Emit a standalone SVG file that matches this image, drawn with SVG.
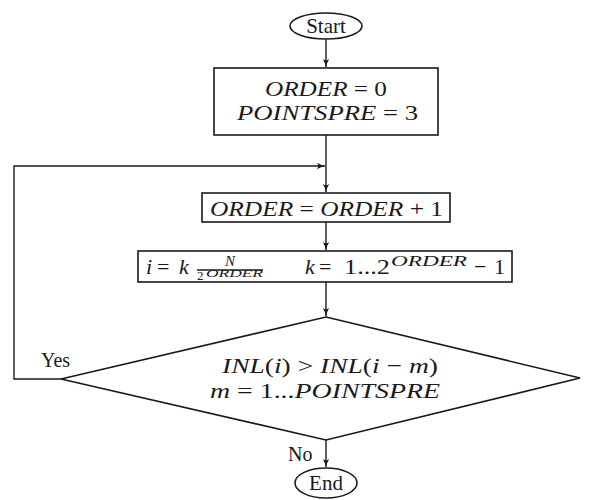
<svg xmlns="http://www.w3.org/2000/svg" width="600" height="500" viewBox="0 0 600 500">
<defs>
<style>
.shape{fill:#fff;stroke:#1a1a1a;stroke-width:1.6}
.line{fill:none;stroke:#1a1a1a;stroke-width:1.4}
text{font-family:"Liberation Serif","Times New Roman",serif;fill:#1a1a1a}
.m{font-size:21px;text-anchor:middle}
.r{font-size:22px}
.i{font-style:italic;font-family:"Liberation Serif","Times New Roman",serif}
.lbl{font-size:20px}
</style>
<marker id="ah" viewBox="0 0 10 10" refX="10" refY="5" markerWidth="8" markerHeight="8" markerUnits="userSpaceOnUse" orient="auto">
<path d="M0,1 Q5,4 10,5 Q5,6 0,9 Q3,5 0,1 Z" fill="#1a1a1a"/>
</marker>
</defs>
<rect width="600" height="500" fill="#fff"/>
<g id="connectors">
<line class="line" x1="326" y1="39" x2="326" y2="67" marker-end="url(#ah)"/>
<line class="line" x1="326" y1="135" x2="326" y2="192" marker-end="url(#ah)"/>
<polyline class="line" points="61,379 14,379 14,166 325,166" marker-end="url(#ah)"/>
<line class="line" x1="326" y1="222" x2="326" y2="250" marker-end="url(#ah)"/>
<line class="line" x1="326" y1="282" x2="326" y2="316" marker-end="url(#ah)"/>
<line class="line" x1="326" y1="440" x2="326" y2="467" marker-end="url(#ah)"/>
<text class="lbl" x="41" y="367">Yes</text>
<text class="lbl" x="288" y="461">No</text>
</g>
<g id="start">
<ellipse class="shape" cx="326" cy="26" rx="36" ry="13"/>
<text x="326" y="33" class="m">Start</text>
</g>
<g id="init">
<rect class="shape" x="214" y="68" width="224" height="67"/>
<text x="265" y="96" class="r" textLength="122" lengthAdjust="spacingAndGlyphs"><tspan class="i">ORDER</tspan> = 0</text>
<text x="237" y="120" class="r" textLength="181" lengthAdjust="spacingAndGlyphs"><tspan class="i">POINTSPRE</tspan> = 3</text>
</g>
<g id="increment">
<rect class="shape" x="202" y="193" width="248" height="29"/>
<text x="210" y="216" class="r" textLength="233" lengthAdjust="spacingAndGlyphs"><tspan class="i">ORDER</tspan> = <tspan class="i">ORDER</tspan> + 1</text>
</g>
<g id="compute">
<rect class="shape" x="138" y="251" width="374" height="31"/>
<text x="146" y="274" class="r i">i</text>
<text x="157" y="274" class="r">=</text>
<text x="179" y="274" class="r i">k</text>
<text x="230" y="266" style="font-size:15px;text-anchor:middle" class="i">N</text>
<line x1="197" y1="270" x2="263" y2="270" stroke="#1a1a1a" stroke-width="1.3"/>
<text x="197" y="280" style="font-size:13px">2</text>
<text x="206" y="277" style="font-size:10px" class="i" textLength="57" lengthAdjust="spacingAndGlyphs">ORDER</text>
<text x="305" y="274" class="r i">k</text>
<text x="319" y="274" class="r">=</text>
<text x="344" y="274" class="r" textLength="46" lengthAdjust="spacingAndGlyphs">1...2</text>
<text x="391" y="266" style="font-size:14px" class="i" textLength="76" lengthAdjust="spacingAndGlyphs">ORDER</text>
<text x="474" y="274" class="r">−</text>
<text x="494" y="274" class="r">1</text>
</g>
<g id="decision">
<polygon class="shape" points="326,317 580,378 326,440 61,379"/>
<text x="222" y="373" class="r" textLength="216" lengthAdjust="spacingAndGlyphs"><tspan class="i">INL</tspan>(<tspan class="i">i</tspan>) &gt; <tspan class="i">INL</tspan>(<tspan class="i">i</tspan> − <tspan class="i">m</tspan>)</text>
<text x="210" y="398" class="r" textLength="230" lengthAdjust="spacingAndGlyphs"><tspan class="i">m</tspan> = 1...<tspan class="i">POINTSPRE</tspan></text>
</g>
<g id="end">
<ellipse class="shape" cx="326" cy="483" rx="31" ry="15"/>
<text x="326" y="490" class="m">End</text>
</g>
</svg>
